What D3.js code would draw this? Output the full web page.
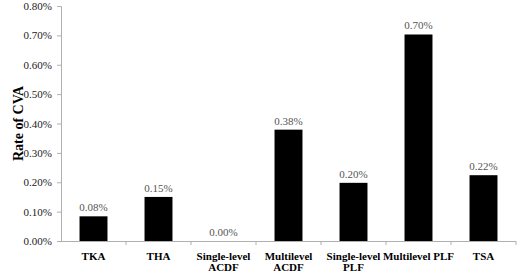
<!DOCTYPE html>
<html>
<head>
<meta charset="utf-8">
<script src="https://cdn.jsdelivr.net/npm/d3@7"></script>
<style>
  body { margin: 0; background: #fff; }
  svg text { font-family: 'Liberation Serif', 'DejaVu Serif', 'Times New Roman', serif !important; }
</style>
</head>
<body>
<script>
// chart data
var categories = ["TKA", "THA", "Single-level ACDF", "Multilevel ACDF", "Single-level PLF", "Multilevel PLF", "TSA"];
var rates = [0.084, 0.150, 0.000, 0.379, 0.198, 0.703, 0.224];
var rateLabels = ["0.08%", "0.15%", "0.00%", "0.38%", "0.20%", "0.70%", "0.22%"];
var yTicks = [0, 0.1, 0.2, 0.3, 0.4, 0.5, 0.6, 0.7, 0.8];

// label line breaks as in the original
var catLines = {
  "TKA": ["TKA"], "THA": ["THA"],
  "Single-level ACDF": ["Single-level", "ACDF"],
  "Multilevel ACDF": ["Multilevel", "ACDF"],
  "Single-level PLF": ["Single-level", "PLF"],
  "Multilevel PLF": ["Multilevel PLF"],
  "TSA": ["TSA"]
};

var margin = {top: 6, right: 4, bottom: 33, left: 61},
    width = 520 - margin.left - margin.right,
    height = 274 - margin.top - margin.bottom;

var x = d3.scaleBand().domain(categories).range([0, width]).paddingInner(0.57).paddingOuter(0.285);
var y = d3.scaleLinear().domain([0, 0.8]).range([height, 0]);

var svg = d3.select("body").append("svg")
    .attr("width", 520).attr("height", 274)
  .append("g")
    .attr("transform", "translate(" + margin.left + "," + margin.top + ")");

// y axis
var yAxis = svg.append("g")
    .call(d3.axisLeft(y).tickValues(yTicks).tickSize(4).tickPadding(5)
      .tickFormat(function(d){ return d.toFixed(2) + "%"; }));
yAxis.attr("font-family", null);
yAxis.select(".domain").attr("stroke", "#b0b0b0").attr("d", "M-4,0.5H0.5V" + (height + 0.5));
yAxis.selectAll(".tick line").attr("stroke", "#b0b0b0");
yAxis.selectAll("text").style("font-size", "11px").style("fill", "#222");

// x axis line and separators
var step = width / categories.length;
svg.append("line")
    .attr("x1", 0).attr("x2", width)
    .attr("y1", height + 0.5).attr("y2", height + 0.5)
    .attr("stroke", "#b0b0b0");
svg.selectAll(".xsep")
    .data(d3.range(1, categories.length + 1))
    .enter().append("line")
    .attr("x1", function(i){ return i * step; })
    .attr("x2", function(i){ return i * step; })
    .attr("y1", height).attr("y2", height + 4)
    .attr("stroke", "#b0b0b0");

// bars
svg.selectAll(".bar")
    .data(categories)
    .enter().append("rect")
    .attr("x", function(d){ return x(d); })
    .attr("width", x.bandwidth())
    .attr("y", function(d, i){ return y(rates[i]); })
    .attr("height", function(d, i){ return height - y(rates[i]); })
    .attr("fill", "#000");

// value labels
svg.selectAll(".val")
    .data(categories)
    .enter().append("text")
    .attr("x", function(d){ return x(d) + x.bandwidth() / 2; })
    .attr("y", function(d, i){ return y(rates[i]) - 5; })
    .attr("text-anchor", "middle")
    .style("font-size", "11px")
    .style("fill", "#555")
    .text(function(d, i){ return rateLabels[i]; });

// category labels
var cat = svg.selectAll(".cat")
    .data(categories)
    .enter().append("text")
    .attr("text-anchor", "middle")
    .style("font-size", "11px")
    .style("font-weight", "bold")
    .style("fill", "#000");
cat.each(function(d){
  var t = d3.select(this);
  catLines[d].forEach(function(line, j){
    t.append("tspan")
      .attr("x", x(d) + x.bandwidth() / 2)
      .attr("y", height + 19 + j * 11)
      .text(line);
  });
});

// y axis title
svg.append("text")
    .attr("transform", "rotate(-90)")
    .attr("x", -height / 2)
    .attr("y", -margin.left + 23)
    .attr("text-anchor", "middle")
    .style("font-size", "14px")
    .style("font-weight", "bold")
    .text("Rate of CVA");
</script>
</body>
</html>
